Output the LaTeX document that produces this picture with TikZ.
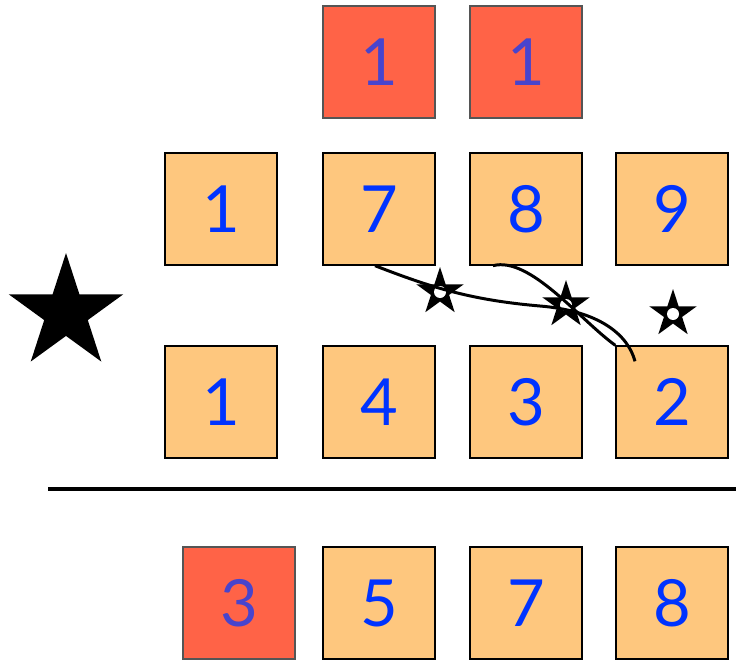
\documentclass[tikz,border=0pt]{standalone}
\usepackage{fontspec}
\setsansfont{Lato}
\usepackage{tikz}
\usetikzlibrary{shapes.geometric, positioning}
\definecolor{boxorange}{RGB}{254,199,126}
\definecolor{boxred}{RGB}{255,99,71}
\definecolor{digblue}{RGB}{0,51,255}
\definecolor{digpurple}{RGB}{72,68,205}
\definecolor{rededge}{RGB}{85,85,85}
\tikzset{
  card/.style={rectangle, draw=black, fill=boxorange, line width=0.8pt,
    minimum width=2.24cm, minimum height=2.24cm, inner sep=0pt,
    font=\sffamily\fontsize{37}{40}\selectfont, text=digblue},
  redcard/.style={card, draw=rededge, fill=boxred, line width=1.2pt, text=digpurple},
  bigstar/.style={star, star points=5, star point ratio=2.618, fill=black,
    minimum size=2.4cm, inner sep=0pt},
  tinystar/.style={star, star points=5, star point ratio=2.618, fill=black,
    minimum size=1.0cm, inner sep=0pt},
  hole/.style={circle, fill=white, minimum size=0.24cm, inner sep=0pt},
  curve/.style={line width=1.7pt, color=black},
  line/.style={line width=2.4pt, color=black}
}
\begin{document}
\begin{tikzpicture}[x=0.02cm, y=-0.02cm]
  \useasboundingbox (0,0) rectangle (736,662);

  % top row
  \node[redcard] (top1) at (379,62) {1};
  \node[redcard] (top2) at (526,62) {1};

  % upper row
  \node[card] (u1) at (221,209) {1};
  \node[card] (u2) at (379,209) {7};
  \node[card] (u3) at (526,209) {8};
  \node[card] (u4) at (672,209) {9};

  % lower row
  \node[card] (l1) at (221,402) {1};
  \node[card] (l2) at (379,402) {4};
  \node[card] (l3) at (526,402) {3};
  \node[card] (l4) at (672,402) {2};

  % divider
  \coordinate (divL) at (48,489);
  \coordinate (divR) at (736,489);
  \draw[line] (divL) -- (divR);

  % bottom row
  \node[redcard] (b1) at (239,603) {3};
  \node[card] (b2) at (379,603) {5};
  \node[card] (b3) at (526,603) {7};
  \node[card] (b4) at (672,603) {8};

  % stars
  \node[bigstar] (big) at (66,313) {};
  \node[tinystar] (s1) at (440,292) {};
  \node[tinystar] (s2) at (566,305) {};
  \node[tinystar] (s3) at (673,314) {};
  \node[hole] (h1) at (s1) {};
  \node[hole] (h2) at (s2) {};
  \node[hole] (h3) at (s3) {};

  % crossing paths
  \coordinate (p1) at ([xshift=-0.08cm]u2.south);
  \coordinate (p2) at ([xshift=-0.66cm]u3.south);
  \coordinate (q1) at ([xshift=-0.74cm,yshift=-0.32cm]l4.north);
  \draw[curve] (p1) .. controls (430,287) and (470,300) .. (540,306)
    .. controls (600,311) and (628,335) .. (q1);
  \draw[curve] (p2) .. controls (530,256) and (580,320) .. (l4.north west);
\end{tikzpicture}
\end{document}
